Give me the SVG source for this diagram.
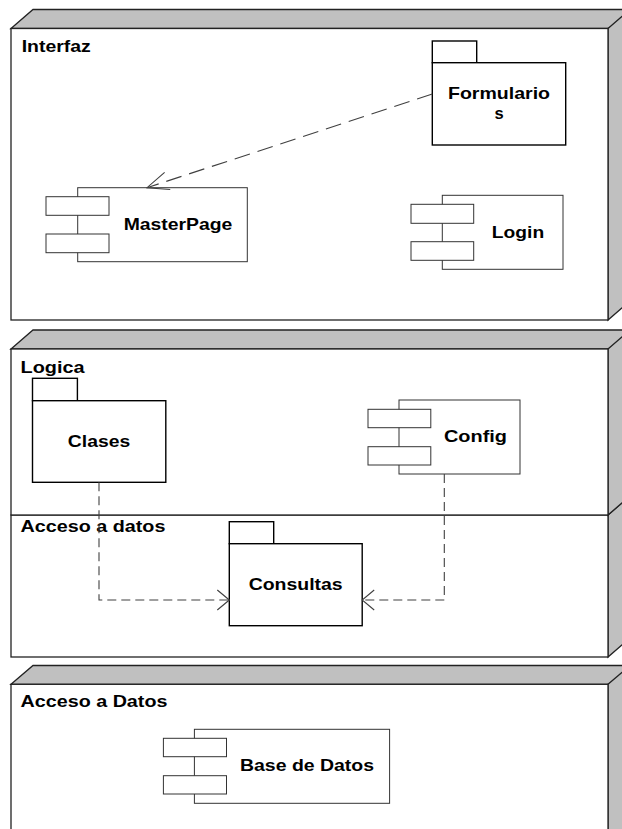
<svg xmlns="http://www.w3.org/2000/svg" width="622" height="829" viewBox="0 0 622 829">
<style>
.face{fill:#c0c0c0;stroke:#222;stroke-width:1.3}
.front{fill:#fff;stroke:#222;stroke-width:1.3}
.pkg{fill:#fff;stroke:#000;stroke-width:1.4}
.cmp{fill:#fff;stroke:#333;stroke-width:1}
.lbl{font-family:"Liberation Sans",Arial,sans-serif;font-weight:bold;font-size:16.5px;fill:#000}
.mid{text-anchor:middle}
.dep{fill:none;stroke:#404040;stroke-width:1.1}
.d1{stroke-dasharray:16 8}
.d2{stroke-dasharray:9 5}
.head{fill:none;stroke:#404040;stroke-width:1.1}
</style>
<defs>
<marker id="arrowO" markerUnits="userSpaceOnUse" viewBox="0 0 14 22" refX="13" refY="11" markerWidth="14" markerHeight="22" orient="auto">
<path class="head" d="M1,1 L13,11 L1,21"/>
</marker>
<marker id="arrowD" markerUnits="userSpaceOnUse" viewBox="0 0 24 20" refX="22.5" refY="10" markerWidth="24" markerHeight="20" orient="auto">
<path class="head" d="M1,1 L22.5,10 L1,19"/>
</marker>
</defs>

<g id="node-interfaz">
<polygon class="face" points="11,28.5 33,9.5 640,9.5 608,28.5"/>
<polygon class="face" points="608,28.5 630,9.5 630,301 608,320"/>
<rect class="front" x="11" y="28.5" width="597" height="291.5"/>
<text class="lbl" x="21.7" y="51.7" textLength="69" lengthAdjust="spacingAndGlyphs">Interfaz</text>
</g>

<g id="node-acceso-datos-logica">
<polygon class="face" points="608,515 630,496 630,638 608,657"/>
<rect class="front" x="11" y="515" width="597" height="142"/>
<text class="lbl" x="20.6" y="531.7" textLength="144.8" lengthAdjust="spacingAndGlyphs">Acceso a datos</text>
</g>

<g id="node-logica">
<polygon class="face" points="11,349 33,330 640,330 608,349"/>
<polygon class="face" points="608,349 630,330 630,496 608,515"/>
<rect class="front" x="11" y="349" width="597" height="166"/>
<text class="lbl" x="20.6" y="373.3" textLength="64" lengthAdjust="spacingAndGlyphs">Logica</text>
</g>

<g id="node-acceso-Datos">
<polygon class="face" points="11,684.3 33,665.5 640,665.5 608,684.3"/>
<polygon class="face" points="608,684.3 630,665.5 630,860 608,860"/>
<rect class="front" x="11" y="684.3" width="597" height="180"/>
<text class="lbl" x="20.6" y="706.7" textLength="146.8" lengthAdjust="spacingAndGlyphs">Acceso a Datos</text>
</g>

<g id="pkg-formularios">
<rect class="pkg" x="432.3" y="41" width="44.4" height="21.7"/>
<rect class="pkg" x="432.3" y="62.7" width="133.4" height="82.3"/>
<text class="lbl mid" x="499" y="99.3" textLength="102" lengthAdjust="spacingAndGlyphs">Formulario</text>
<text class="lbl mid" x="499" y="119">s</text>
</g>

<g id="cmp-masterpage">
<rect class="cmp" x="77.7" y="187.7" width="169.6" height="74"/>
<rect class="cmp" x="46" y="196.7" width="63" height="18.6"/>
<rect class="cmp" x="46" y="234" width="63" height="18.7"/>
<text class="lbl mid" x="178" y="230" textLength="108.7" lengthAdjust="spacingAndGlyphs">MasterPage</text>
</g>

<g id="cmp-login">
<rect class="cmp" x="442.3" y="195.3" width="120.7" height="74"/>
<rect class="cmp" x="411" y="204.3" width="62.7" height="19"/>
<rect class="cmp" x="411" y="241.7" width="62.7" height="18.6"/>
<text class="lbl mid" x="518" y="238.3" textLength="52.3" lengthAdjust="spacingAndGlyphs">Login</text>
</g>

<g id="pkg-clases">
<rect class="pkg" x="32.5" y="378.3" width="44.9" height="22.4"/>
<rect class="pkg" x="32.5" y="400.7" width="133.3" height="81.6"/>
<text class="lbl mid" x="99" y="446.7" textLength="62.3" lengthAdjust="spacingAndGlyphs">Clases</text>
</g>

<g id="cmp-config">
<rect class="cmp" x="399" y="400" width="121" height="74"/>
<rect class="cmp" x="368" y="409.3" width="62.8" height="18.4"/>
<rect class="cmp" x="368" y="446.7" width="62.8" height="18.3"/>
<text class="lbl mid" x="475.5" y="441.7" textLength="63" lengthAdjust="spacingAndGlyphs">Config</text>
</g>

<g id="pkg-consultas">
<rect class="pkg" x="229.3" y="521.7" width="44.4" height="22"/>
<rect class="pkg" x="229.3" y="543.7" width="132.9" height="82"/>
<text class="lbl mid" x="295.7" y="590" textLength="94" lengthAdjust="spacingAndGlyphs">Consultas</text>
</g>

<g id="cmp-basededatos">
<rect class="cmp" x="194.4" y="729.3" width="195.2" height="74"/>
<rect class="cmp" x="163.4" y="738.3" width="63.1" height="18.4"/>
<rect class="cmp" x="163.4" y="775.7" width="63.1" height="18.3"/>
<text class="lbl mid" x="307" y="770.7" textLength="134" lengthAdjust="spacingAndGlyphs">Base de Datos</text>
</g>

<g id="connectors">
<path class="dep d1" d="M432.3,94 L147,187.7" marker-end="url(#arrowD)"/>
<path class="dep d2" d="M99,482.3 V600 H229.3" marker-end="url(#arrowO)"/>
<path class="dep d2" d="M444.3,474 V600 H362.2" marker-end="url(#arrowO)"/>
</g>
</svg>
